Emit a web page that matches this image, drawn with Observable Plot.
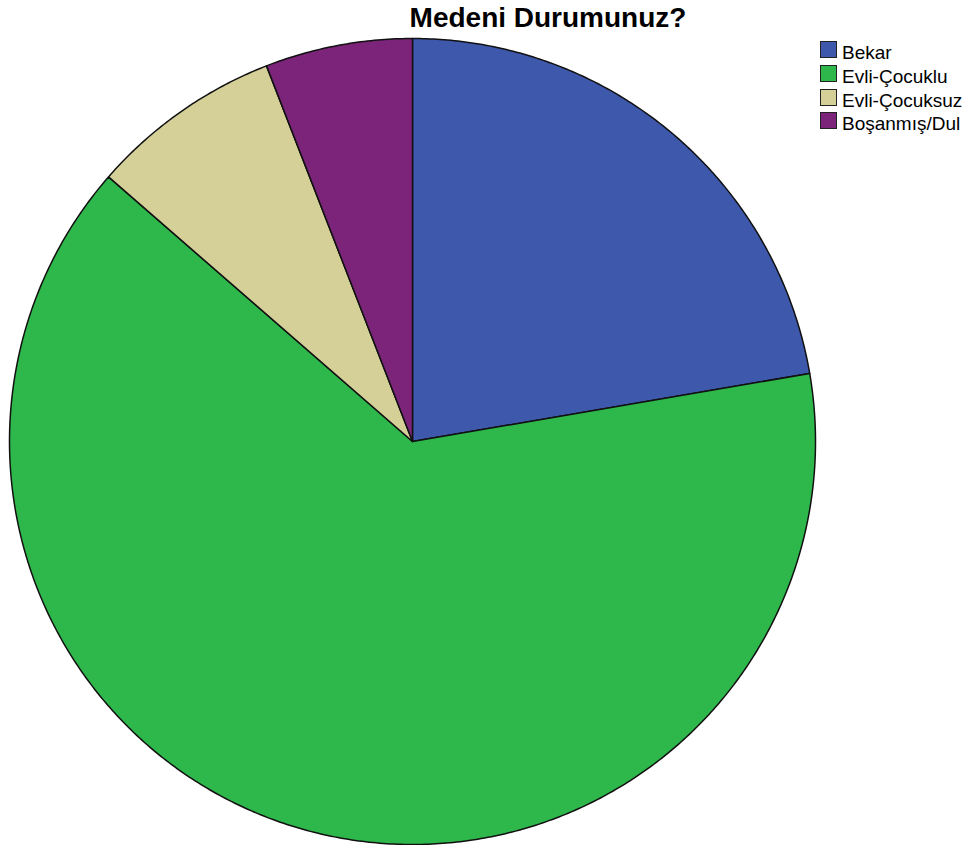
<!DOCTYPE html>
<html>
<head>
<meta charset="utf-8">
<script src="https://cdn.jsdelivr.net/npm/d3@7"></script>
<script src="https://cdn.jsdelivr.net/npm/@observablehq/plot@0.6"></script>
<style>
  html, body { margin: 0; padding: 0; background: #fff; }
  #wrap { position: relative; width: 966px; height: 845px; font-family: "Liberation Sans", Arial, sans-serif; }
  #title { position: absolute; left: 548px; top: 4px; transform: translateX(-50%); font-size: 28px; line-height: 28px; font-weight: bold; color: #000; white-space: nowrap; }
  .sw { position: absolute; width: 15px; height: 15px; border: 1px solid #222; }
  .lab { position: absolute; font-size: 19px; line-height: 19px; color: #000; white-space: nowrap; }
  #chart { position: absolute; left: 0; top: 0; }
</style>
</head>
<body>
<div id="wrap">
  <div id="chart"></div>
  <div id="title">Medeni Durumunuz?</div>
</div>
<script>
const categories = ["Bekar", "Evli-Çocuklu", "Evli-Çocuksuz", "Boşanmış/Dul"];
const values = [22.3, 64.1, 7.7, 5.9];
const colors = ["#3E58AC", "#2EB74A", "#D5CF98", "#7C2479"];

// Build slice polygons in unit-circle coordinates (clockwise from top)
const total = d3.sum(values);
let acc = 0;
const slices = categories.map((c, i) => {
  const a0 = acc / total * 2 * Math.PI;
  acc += values[i];
  const a1 = acc / total * 2 * Math.PI;
  const n = Math.max(2, Math.ceil((a1 - a0) / (Math.PI / 360)));
  const ring = [[0, 0]];
  for (let k = 0; k <= n; k++) {
    const t = a0 + (a1 - a0) * k / n;
    ring.push([Math.sin(t), Math.cos(t)]);
  }
  ring.push([0, 0]);
  return { type: "Feature", properties: { name: c }, geometry: { type: "Polygon", coordinates: [ring] } };
});
const circleRing = d3.range(0, 721).map(k => [Math.sin(k * Math.PI / 360), Math.cos(k * Math.PI / 360)]);
const circle = { type: "Polygon", coordinates: [circleRing] };

const chart = Plot.plot({
  width: 966,
  height: 845,
  marginLeft: 9,
  marginRight: 151,
  marginTop: 38,
  marginBottom: 1,
  projection: { type: "reflect-y", domain: circle },
  color: { domain: categories, range: colors },
  marks: [
    Plot.geo(slices, { fill: d => d.properties.name, stroke: "#111", strokeWidth: 1.5, strokeLinejoin: "round" })
  ]
});
document.getElementById("chart").appendChild(chart);

// Legend
const wrap = document.getElementById("wrap");
categories.forEach((c, i) => {
  const y = 41 + i * 23.8;
  const sw = document.createElement("div");
  sw.className = "sw";
  sw.style.left = "820px";
  sw.style.top = y + "px";
  sw.style.background = colors[i];
  wrap.appendChild(sw);
  const lab = document.createElement("div");
  lab.className = "lab";
  lab.style.left = "842px";
  lab.style.top = (y + 2) + "px";
  lab.textContent = c;
  wrap.appendChild(lab);
});
</script>
</body>
</html>
